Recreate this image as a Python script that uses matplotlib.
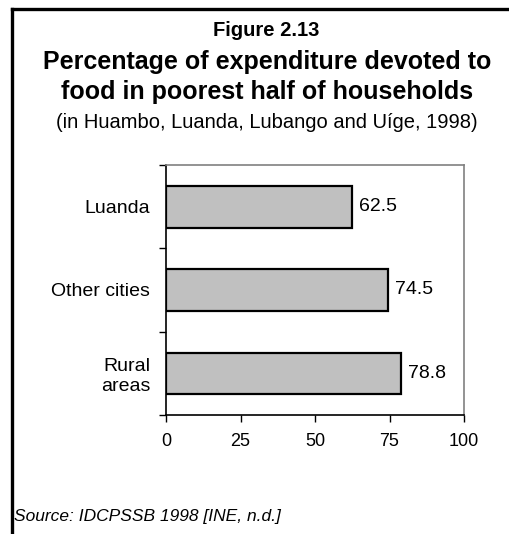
import matplotlib.pyplot as plt
from matplotlib.lines import Line2D

plt.rcParams['font.family'] = ['Liberation Sans', 'DejaVu Sans']

categories = ['Luanda', 'Other cities', 'Rural\nareas']
values = [62.5, 74.5, 78.8]
xticks = [0, 25, 50, 75, 100]

W, H = 509, 534
fig = plt.figure(figsize=(W / 100, H / 100), dpi=100)

# frame round the figure: top and left edges only
fig.add_artist(Line2D([12 / W, 1.0], [1 - 9 / H, 1 - 9 / H], color='black', lw=2.4,
                      transform=fig.transFigure, solid_capstyle='projecting'))
fig.add_artist(Line2D([12 / W, 12 / W], [1 - 9 / H, 0.0], color='black', lw=2.4,
                      transform=fig.transFigure, solid_capstyle='projecting'))

fig.text(266 / W, 1 - 30 / H, 'Figure 2.13', ha='center', va='center',
         fontsize=14.5, fontweight='bold')
fig.text(267 / W, 1 - 62 / H, 'Percentage of expenditure devoted to', ha='center',
         va='center', fontsize=18, fontweight='bold')
fig.text(267 / W, 1 - 92 / H, 'food in poorest half of households', ha='center',
         va='center', fontsize=18, fontweight='bold')
fig.text(267 / W, 1 - 122 / H, '(in Huambo, Luanda, Lubango and Uíge, 1998)',
         ha='center', va='center', fontsize=14.5)
fig.text(14 / W, 1 - 516 / H, 'Source: IDCPSSB 1998 [INE, n.d.]', ha='left',
         va='center', fontsize=12.5, style='italic')

ax = fig.add_axes([166 / W, 1 - 415 / H, (464 - 166) / W, (415 - 165) / H])
pos = list(range(len(categories)))
ax.barh(pos, values, height=0.5, color='#c0c0c0', edgecolor='black', linewidth=1.6)
for p, v in zip(pos, values):
    ax.text(v + 2.3, p, f'{v:.1f}', va='center', ha='left', fontsize=14)

ax.set_xlim(0, 100)
ax.set_ylim(len(categories) - 0.5, -0.5)
ax.set_xticks(xticks)
ax.set_xticklabels([str(t) for t in xticks], fontsize=13)
ax.set_yticks([i - 0.5 for i in range(len(categories) + 1)])
ax.set_yticklabels([])
ax.set_yticks(pos, minor=True)
ax.set_yticklabels(categories, minor=True, fontsize=14, ha='right', linespacing=1.2)
ax.tick_params(axis='y', which='minor', length=0, pad=11.5)
ax.tick_params(axis='y', which='major', length=5, width=1)
ax.tick_params(axis='x', length=5, width=1, pad=8)

ax.spines['left'].set_color('black')
ax.spines['bottom'].set_color('black')
ax.spines['top'].set_color('#808080')
ax.spines['right'].set_color('#808080')
for s in ax.spines.values():
    s.set_linewidth(1.2)

fig.savefig('out.png', dpi=100)
